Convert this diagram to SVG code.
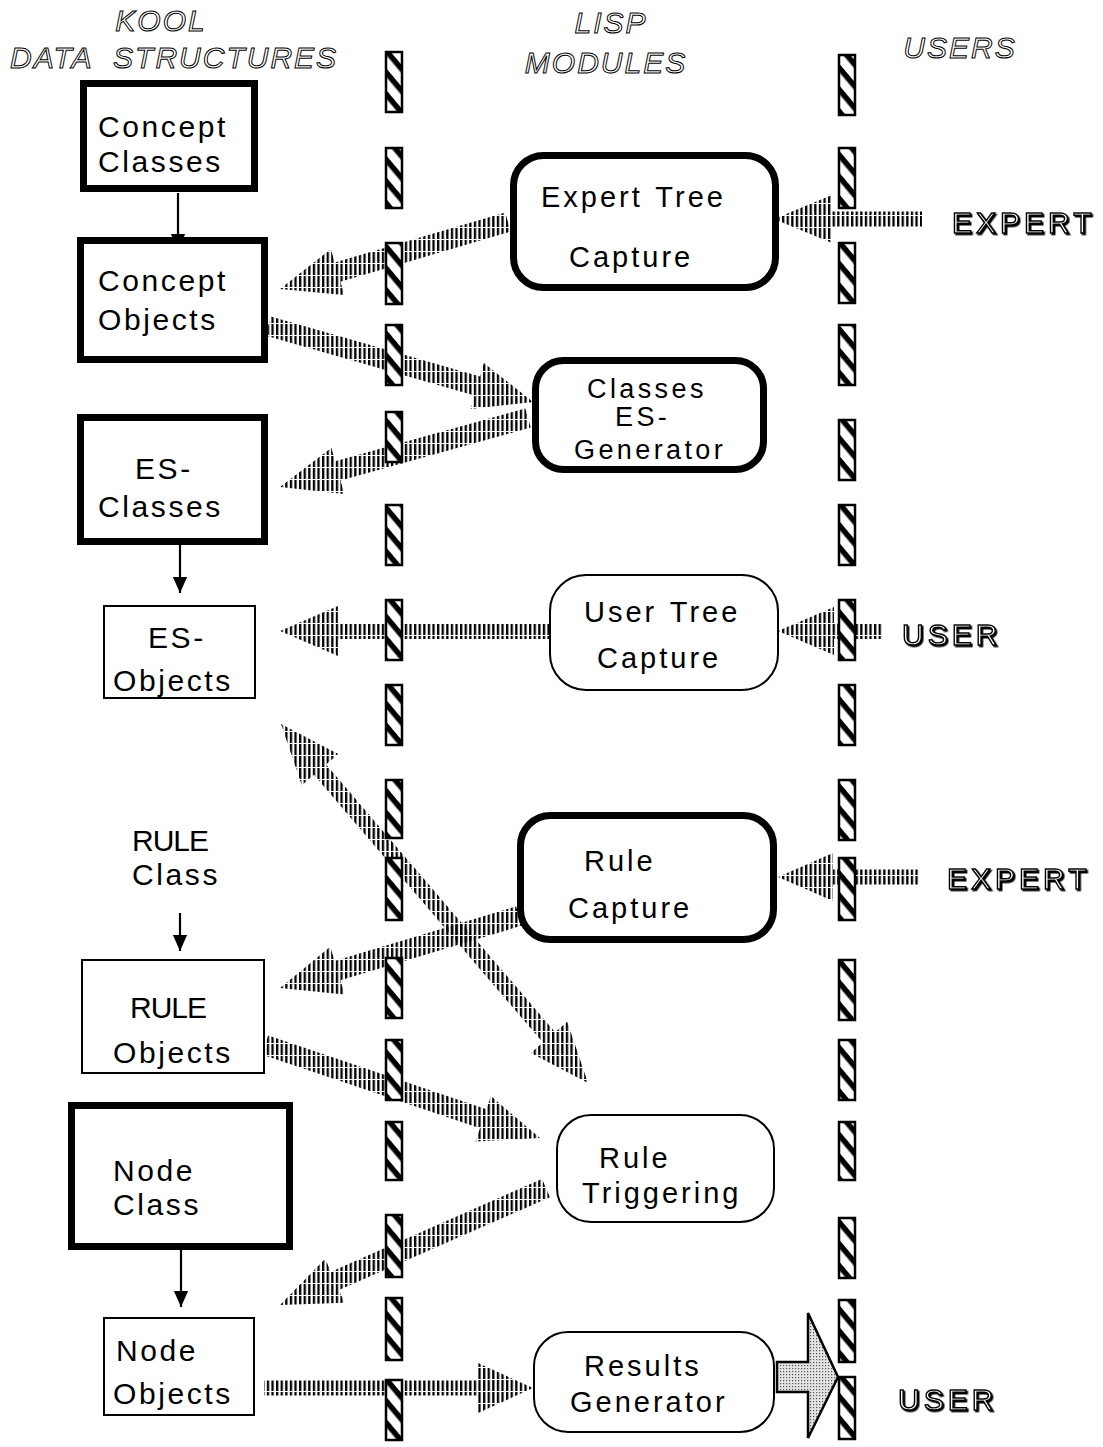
<svg xmlns="http://www.w3.org/2000/svg" width="1103" height="1447" viewBox="0 0 1103 1447">
<defs>
<style>
.bx{fill:#fff;stroke:#000}
.thick{stroke-width:7}
.thin{stroke-width:2}
.t{font-family:"Liberation Sans",Arial,sans-serif;font-size:30px;letter-spacing:2.6px;fill:#000}
.m{font-family:"Liberation Sans",Arial,sans-serif;font-size:29px;letter-spacing:3px;fill:#000}
.ms{font-family:"Liberation Sans",Arial,sans-serif;font-size:27px;letter-spacing:3.4px;fill:#000}
.nar{font-family:"Liberation Sans Narrow","Liberation Sans",sans-serif;font-size:30px;letter-spacing:-1px;fill:#000}
.hd{font-family:"Liberation Sans",Arial,sans-serif;font-size:30px;font-style:italic;letter-spacing:2px;fill:#fff;stroke:#000;stroke-width:1}
.lb{font-family:"Liberation Sans",Arial,sans-serif;font-size:30px;letter-spacing:4px;fill:#fff;stroke:#000;stroke-width:1.4;filter:url(#sh)}
.bar{fill:url(#hatch);stroke:#000;stroke-width:2.5}
.ar{fill:url(#vl);stroke:none}
.bl{stroke:#000;stroke-width:2.2;fill:none;marker-end:url(#ah)}
</style>
<pattern id="hatch" patternUnits="userSpaceOnUse" width="14" height="14" patternTransform="rotate(50)">
<rect width="14" height="14" fill="#fff"/><rect width="14" height="5.5" fill="#000"/>
</pattern>
<pattern id="vl" patternUnits="userSpaceOnUse" width="4.6" height="12">
<rect width="2.3" height="11" fill="#000"/>
</pattern>
<pattern id="dots" patternUnits="userSpaceOnUse" width="3" height="3">
<rect width="3" height="3" fill="#e4e4e4"/><rect width="1.2" height="1.2" fill="#555"/>
</pattern>
<marker id="ah" markerUnits="userSpaceOnUse" markerWidth="16" markerHeight="20" refX="18" refY="8" orient="auto" viewBox="0 0 18 16">
<path d="M0,0 L18,8 L0,16 Z" fill="#000"/>
</marker>
<filter id="sh" x="-10%" y="-10%" width="130%" height="140%">
<feDropShadow dx="1.5" dy="1.5" stdDeviation="0" flood-color="#000"/>
</filter>
</defs>
<rect width="1103" height="1447" fill="#fff"/>

<g id="headers">
<text class="hd" x="161" y="31" text-anchor="middle">KOOL</text>
<text class="hd" x="10" y="68" xml:space="preserve">DATA  STRUCTURES</text>
<text class="hd" x="611" y="33" text-anchor="middle">LISP</text>
<text class="hd" x="606" y="73" text-anchor="middle">MODULES</text>
<text class="hd" x="960" y="58" text-anchor="middle">USERS</text>
</g>

<g id="connectors">
<polygon class="ar" points="922,211.5 832,211.5 832,195 774,219 832,243 832,226.5 922,226.5"/>
<polygon class="ar" points="505.2,212.4 334.8,262.5 330.8,249.1 280,289 344.4,295.1 340.4,281.7 510.8,231.6"/>
<polygon class="ar" points="270.8,316.4 480.1,376.4 483.9,362.9 533,402 470.7,409.1 474.5,395.6 265.2,335.6"/>
<polygon class="ar" points="525.3,408.4 335.1,461.3 331.4,447.8 280,487 344.2,494 340.5,480.5 530.7,427.6"/>
<polygon class="ar" points="549,623 338,623 338,606 280,631 338,656 338,639 549,639"/>
<polygon class="ar" points="882,623 834,623 834,607 778,631 834,655 834,639 882,639"/>
<polygon class="ar" points="281,724 338.2,754 326.1,764.4 555.1,1032.2 567.2,1021.8 588,1083 530.8,1053 542.9,1042.6 313.9,774.8 301.8,785.2"/>
<polygon class="ar" points="920,869.5 833,869.5 833,853 778,877 833,901 833,884.5 920,884.5"/>
<polygon class="ar" points="516.1,906.4 334.6,961.1 330.3,946.8 280,988 344.7,994.6 340.4,980.3 521.9,925.6"/>
<polygon class="ar" points="268.2,1035.5 486.4,1109.3 490.9,1096.1 540,1138 475.5,1141.5 480,1128.3 261.8,1054.5"/>
<polygon class="ar" points="542,1178.9 330.9,1271.7 325.2,1258.8 280,1305 344.6,1302.8 338.9,1290 550,1197.2"/>
<polygon class="ar" points="264,1380.5 478,1380.5 478,1363 533,1388 478,1413 478,1395.5 264,1395.5"/>
<polygon points="777,1362 808,1362 808,1313 838,1377 808,1438 808,1392 777,1392" fill="url(#dots)" stroke="#000" stroke-width="2.5" stroke-linejoin="miter"/>
<line class="bl" x1="178" y1="193" x2="178" y2="250"/>
<line class="bl" x1="180" y1="545" x2="180" y2="593"/>
<line class="bl" x1="180" y1="913" x2="180" y2="951"/>
<line class="bl" x1="181" y1="1250" x2="181" y2="1307"/>
</g>

<g id="lanes">
<rect class="bar" x="386" y="52" width="16" height="60"/>
<rect class="bar" x="386" y="148" width="16" height="60"/>
<rect class="bar" x="386" y="243" width="16" height="61"/>
<rect class="bar" x="386" y="325" width="16" height="60"/>
<rect class="bar" x="386" y="412" width="16" height="50"/>
<rect class="bar" x="386" y="505" width="16" height="60"/>
<rect class="bar" x="386" y="600" width="16" height="60"/>
<rect class="bar" x="386" y="685" width="16" height="60"/>
<rect class="bar" x="386" y="780" width="16" height="58"/>
<rect class="bar" x="386" y="858" width="16" height="62"/>
<rect class="bar" x="386" y="958" width="16" height="60"/>
<rect class="bar" x="386" y="1040" width="16" height="60"/>
<rect class="bar" x="386" y="1122" width="16" height="58"/>
<rect class="bar" x="386" y="1215" width="16" height="62"/>
<rect class="bar" x="386" y="1298" width="16" height="62"/>
<rect class="bar" x="386" y="1380" width="16" height="60"/>
<rect class="bar" x="839" y="55" width="16" height="60"/>
<rect class="bar" x="839" y="148" width="16" height="60"/>
<rect class="bar" x="839" y="243" width="16" height="60"/>
<rect class="bar" x="839" y="325" width="16" height="60"/>
<rect class="bar" x="839" y="420" width="16" height="60"/>
<rect class="bar" x="839" y="505" width="16" height="60"/>
<rect class="bar" x="839" y="600" width="16" height="60"/>
<rect class="bar" x="839" y="685" width="16" height="60"/>
<rect class="bar" x="839" y="780" width="16" height="60"/>
<rect class="bar" x="839" y="858" width="16" height="62"/>
<rect class="bar" x="839" y="960" width="16" height="60"/>
<rect class="bar" x="839" y="1040" width="16" height="60"/>
<rect class="bar" x="839" y="1122" width="16" height="58"/>
<rect class="bar" x="839" y="1218" width="16" height="60"/>
<rect class="bar" x="839" y="1300" width="16" height="62"/>
<rect class="bar" x="839" y="1377" width="16" height="62"/>
</g>

<g id="concept-classes">
<rect class="bx thick" x="83.5" y="83.5" width="171" height="105"/>
<text class="t" x="98" y="137">Concept</text>
<text class="t" x="98" y="172">Classes</text>
</g>
<g id="concept-objects">
<rect class="bx thick" x="80.5" y="240.5" width="184" height="119"/>
<text class="t" x="98" y="291">Concept</text>
<text class="t" x="98" y="330">Objects</text>
</g>
<g id="es-classes">
<rect class="bx thick" x="80.5" y="417.5" width="184" height="124"/>
<text class="t" x="135" y="479">ES-</text>
<text class="t" x="98" y="517">Classes</text>
</g>
<g id="es-objects">
<rect class="bx thin" x="104" y="606" width="151" height="92"/>
<text class="t" x="148" y="648">ES-</text>
<text class="t" x="113" y="691">Objects</text>
</g>
<g id="rule-class">
<text class="nar" x="132" y="851">RULE</text>
<text class="t" x="132" y="885">Class</text>
</g>
<g id="rule-objects">
<rect class="bx thin" x="82" y="960" width="182" height="113"/>
<text class="nar" x="130" y="1018">RULE</text>
<text class="t" x="113" y="1063">Objects</text>
</g>
<g id="node-class">
<rect class="bx thick" x="71.5" y="1105.5" width="218" height="141"/>
<text class="t" x="113" y="1181">Node</text>
<text class="t" x="113" y="1215">Class</text>
</g>
<g id="node-objects">
<rect class="bx thin" x="104" y="1318" width="150" height="97"/>
<text class="t" x="116" y="1361">Node</text>
<text class="t" x="113" y="1404">Objects</text>
</g>

<g id="expert-tree-capture">
<rect class="bx thick" x="513.5" y="155.5" width="262" height="132" rx="30"/>
<text class="m" x="541" y="207" word-spacing="2">Expert Tree</text>
<text class="m" x="569" y="267">Capture</text>
</g>
<g id="classes-es-generator">
<rect class="bx thick" x="535.5" y="360.5" width="228" height="109" rx="28"/>
<text class="ms" x="587" y="398">Classes</text>
<text class="ms" x="615" y="426">ES-</text>
<text class="ms" x="574" y="459">Generator</text>
</g>
<g id="user-tree-capture">
<rect class="bx thin" x="550" y="575" width="228" height="115" rx="36"/>
<text class="m" x="584" y="622" word-spacing="2">User Tree</text>
<text class="m" x="597" y="668">Capture</text>
</g>
<g id="rule-capture">
<rect class="bx thick" x="520.5" y="815.5" width="253" height="124" rx="30"/>
<text class="m" x="584" y="871">Rule</text>
<text class="m" x="568" y="918">Capture</text>
</g>
<g id="rule-triggering">
<rect class="bx thin" x="557" y="1115" width="217" height="107" rx="34"/>
<text class="m" x="599" y="1168">Rule</text>
<text class="m" x="582" y="1203">Triggering</text>
</g>
<g id="results-generator">
<rect class="bx thin" x="534" y="1332" width="240" height="100" rx="34"/>
<text class="m" x="584" y="1376">Results</text>
<text class="m" x="570" y="1412">Generator</text>
</g>

<g id="users">
<text class="lb" x="952" y="233">EXPERT</text>
<text class="lb" x="902" y="645">USER</text>
<text class="lb" x="947" y="889">EXPERT</text>
<text class="lb" x="898" y="1410">USER</text>
</g>
</svg>
